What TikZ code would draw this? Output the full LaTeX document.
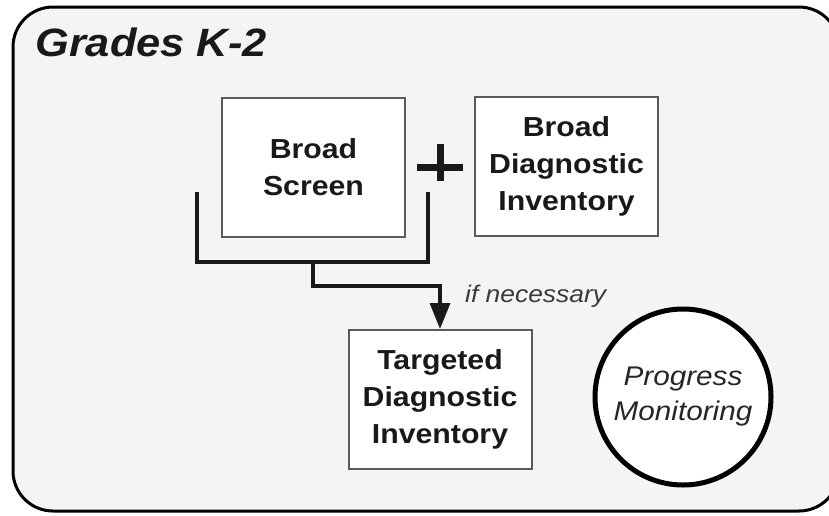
\documentclass[tikz,border=0pt]{standalone}
\usepackage{fontspec}
\setmainfont{Liberation Sans}[FakeStretch=1.1]
\usetikzlibrary{arrows.meta}
\definecolor{bgfill}{HTML}{F4F4F4}
\definecolor{boxline}{HTML}{5A5A5A}
\definecolor{softtext}{HTML}{3A3A3A}
\tikzset{
  stepbox/.style={draw=boxline, line width=2pt, fill=white, minimum width=183pt,
    minimum height=139pt, inner sep=0pt, align=center, text=black!90,
    font=\bfseries\fontsize{27.5}{37}\selectfont},
  conn/.style={line width=3.5pt, draw=black!90},
  plusbar/.style={line width=7pt, draw=black!90},
  pmcircle/.style={circle, draw=black, line width=5pt, fill=white, minimum size=176pt,
    inner sep=0pt, align=center, text=black!85,
    font=\itshape\fontsize{27}{35}\selectfont},
}
\begin{document}
\begin{tikzpicture}[x=1pt,y=-1pt]
\useasboundingbox (0,0) rectangle (829,515);
\clip (0,0) rectangle (829,515);
\fill[white] (0,0) rectangle (829,515);
\draw[line width=3pt, fill=bgfill, rounded corners=40pt] (13,7) rectangle (839,511);

\node[anchor=base west, inner sep=0pt, text=black!90,
      font=\bfseries\itshape\fontsize{39.5}{40}\selectfont] (title) at (35,56) {Grades K-2};

\node[stepbox] (bs) at (313.5,167.5) {Broad\\Screen};
\node[stepbox] (bdi) at (566.5,166.5) {Broad\\Diagnostic\\Inventory};
\node[stepbox] (td) at (440,399.5) {Targeted\\Diagnostic\\Inventory};

% plus sign
\coordinate (plus) at (440,167);
\draw[plusbar] ([xshift=-23pt]plus) -- ([xshift=23pt]plus);
\draw[plusbar] ([yshift=-14pt]plus) -- ([yshift=23pt]plus);

% bracket
\coordinate (bl) at (197,192);
\coordinate (br) at (428,192);
\coordinate (bm) at (313,262);
\coordinate (bend) at (313,286);
\draw[conn] (bl) |- (br|-bm) -- (br);
\draw[conn, -{Triangle[length=26pt,width=20pt]}] (bm) -- (bend) -| (td.north);

\node[anchor=base west, inner sep=0pt, text=softtext,
      font=\itshape\fontsize{24}{24}\selectfont] (ifn) at (465,302) {if necessary};

\node[pmcircle] (pm) at (683,397) {Progress\\Monitoring};
\end{tikzpicture}
\end{document}
